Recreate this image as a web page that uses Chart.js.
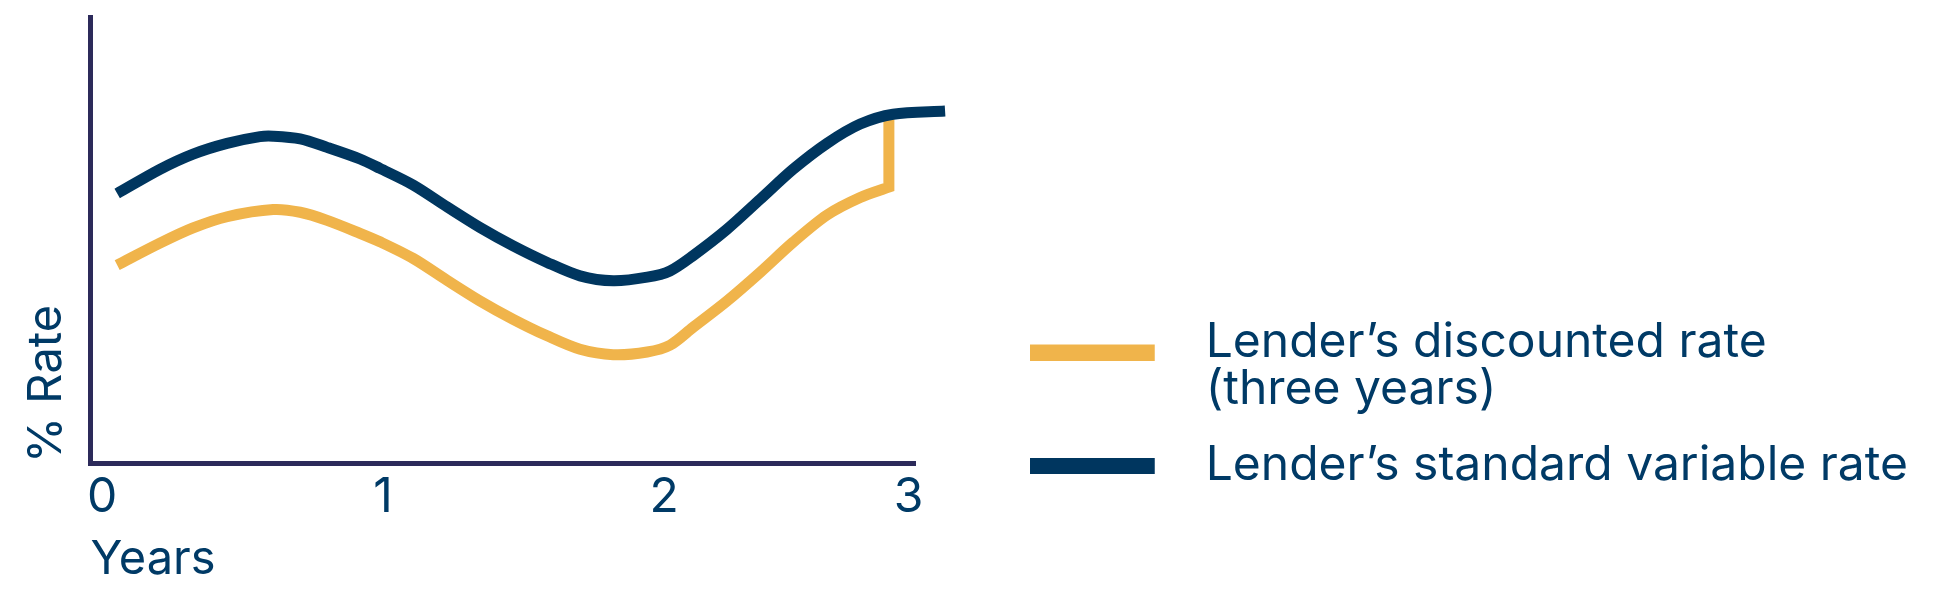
<!DOCTYPE html>
<html>
<head>
<meta charset="utf-8">
<title>Discounted rate vs standard variable rate</title>
<script src="https://cdn.jsdelivr.net/npm/chart.js@4.4.1/dist/chart.umd.min.js"></script>
<style>
  html, body { margin: 0; padding: 0; background: #fff; }
  #wrap { position: relative; width: 1938px; height: 610px; }
</style>
</head>
<body>
<div id="wrap"><canvas id="ratechart"></canvas></div>
<script>
// values; the rate axis has no ticks so its units are arbitrary
const svrYears = [0.054, 0.206, 0.324, 0.445, 0.562, 0.609, 0.705, 0.801, 0.918, 0.989, 1.107, 1.228, 1.345, 1.463,
    1.584, 1.701, 1.819, 1.940, 2.021, 2.103, 2.224, 2.342, 2.459, 2.580, 2.698, 2.815, 3.0]
const svrRates = [6.02, 6.56, 6.90, 7.14, 7.29, 7.30, 7.24, 7.05, 6.79, 6.58, 6.21, 5.72, 5.26, 4.85,
    4.48, 4.18, 4.07, 4.15, 4.29, 4.63, 5.22, 5.89, 6.56, 7.14, 7.57, 7.79, 7.86]

// the discounted rate ends with a jump back up to the standard rate (corner point listed twice)
const discYears = [0.054, 0.206, 0.324, 0.445, 0.609, 0.705, 0.801, 0.918, 0.989, 1.107, 1.228, 1.345, 1.463,
    1.584, 1.701, 1.819, 1.940, 2.021, 2.103, 2.224, 2.342, 2.459, 2.580, 2.698, 2.80, 2.80, 2.80]
const discRates = [4.42, 4.91, 5.25, 5.50, 5.66, 5.60, 5.42, 5.13, 4.94, 4.57, 4.08, 3.62, 3.21,
    2.84, 2.54, 2.42, 2.48, 2.63, 3.03, 3.62, 4.26, 4.93, 5.54, 5.93, 6.16, 6.16, 7.69]

const tickValues = [0, 1, 2, 2.87]   // "3" is printed at the end of the drawn axis
const tickLabels = ['0', '1', '2', '3']
const seriesNames = ['Lender’s discounted rate (three years)', 'Lender’s standard variable rate']
const legendText = [['Lender’s discounted rate', '(three years)'], 'Lender’s standard variable rate']

const navy = '#00365f'
const gold = '#f0b44b'
const axisColor = '#2c2a5a'
const textColor = '#003a66'
const family = 'Inter, "Open Sans", sans-serif'

function toPoints(xs, ys) {
    return xs.map((x, i) => ({x: x, y: ys[i]}))
}

// legend swatch: bar on the left, empty room on the right, optional drop below the first text line
function swatch(color, drop) {
    const c = document.createElement('canvas')
    c.width = 152
    c.height = 16 + 2 * drop
    const g = c.getContext('2d')
    g.fillStyle = color
    g.fillRect(0, 2 * drop, 125, 16)
    return c
}

function draw() {
    const swatches = [swatch(gold, 10), swatch(navy, 0)]
    const ctx = document.getElementById('ratechart')

    new Chart(ctx, {
        type: 'line',
        data: {
            datasets: [{
                label: seriesNames[0],
                data: toPoints(discYears, discRates),
                borderColor: gold,
                backgroundColor: gold,
                borderWidth: 11,
                order: 1
            }, {
                label: seriesNames[1],
                data: toPoints(svrYears, svrRates),
                borderColor: navy,
                backgroundColor: navy,
                borderWidth: 11,
                order: 0
            }]
        },
        options: {
            responsive: true,
            maintainAspectRatio: false,
            animation: false,
            events: [],
            layout: {padding: {top: 17.5, right: 20, bottom: 0, left: 0}},
            elements: {
                point: {radius: 0},
                line: {tension: 0.3, capBezierPoints: false, fill: false}
            },
            datasets: {line: {clip: false}},
            scales: {
                x: {
                    type: 'linear',
                    min: -0.041,
                    max: 2.893,
                    afterBuildTicks(s) {
                        s.ticks = tickValues.map(v => ({value: v}))
                    },
                    ticks: {
                        autoSkip: false,
                        maxRotation: 0,
                        padding: 6,
                        color: textColor,
                        font: {family: family, size: 48, lineHeight: 1.2},
                        callback: (v, i) => tickLabels[i]
                    },
                    grid: {display: false, drawTicks: false},
                    border: {display: true, color: axisColor, width: 5},
                    title: {
                        display: true,
                        text: 'Years',
                        align: 'start',
                        color: textColor,
                        font: {family: family, size: 47, lineHeight: 1.2},
                        padding: {top: 0, bottom: 22}
                    },
                    afterFit(s) {
                        s.height = 147
                    }
                },
                y: {
                    type: 'linear',
                    min: 0,
                    max: 9.95,
                    grid: {display: false, drawTicks: false},
                    ticks: {display: false},
                    border: {display: true, color: axisColor, width: 5},
                    title: {
                        display: true,
                        text: '% Rate',
                        align: 'start',
                        color: textColor,
                        font: {family: family, size: 47, lineHeight: 1.2},
                        padding: {top: 19, bottom: 0}
                    },
                    afterFit(s) {
                        s.width = 90.5
                    }
                },
                // empty room between the plot and the legend
                gap: {
                    axis: 'y',
                    type: 'linear',
                    position: 'right',
                    display: true,
                    grid: {display: false, drawTicks: false},
                    ticks: {display: false},
                    border: {display: false},
                    afterFit(s) {
                        s.width = 85.2
                    }
                }
            },
            plugins: {
                tooltip: {enabled: false},
                legend: {
                    position: 'right',
                    align: 'start',
                    maxWidth: 1100,
                    // empty title only pushes the legend items down
                    title: {display: true, text: '', font: {size: 12, lineHeight: 1}, padding: {top: 259.5, bottom: 0}},
                    labels: {
                        usePointStyle: true,
                        pointStyleWidth: 152,
                        boxHeight: 16,
                        padding: 29.5,
                        color: textColor,
                        font: {family: family, size: 48, lineHeight: 47 / 48},
                        generateLabels(chart) {
                            const items = Chart.defaults.plugins.legend.labels.generateLabels(chart)
                            items.sort((a, b) => a.datasetIndex - b.datasetIndex)
                            items.forEach(it => {
                                it.text = legendText[it.datasetIndex]
                                it.pointStyle = swatches[it.datasetIndex]
                                it.fontColor = textColor
                            })
                            return items
                        }
                    }
                }
            }
        }
    })
}

document.fonts.load('48px Inter').then(draw, draw)
</script>
</body>
</html>
